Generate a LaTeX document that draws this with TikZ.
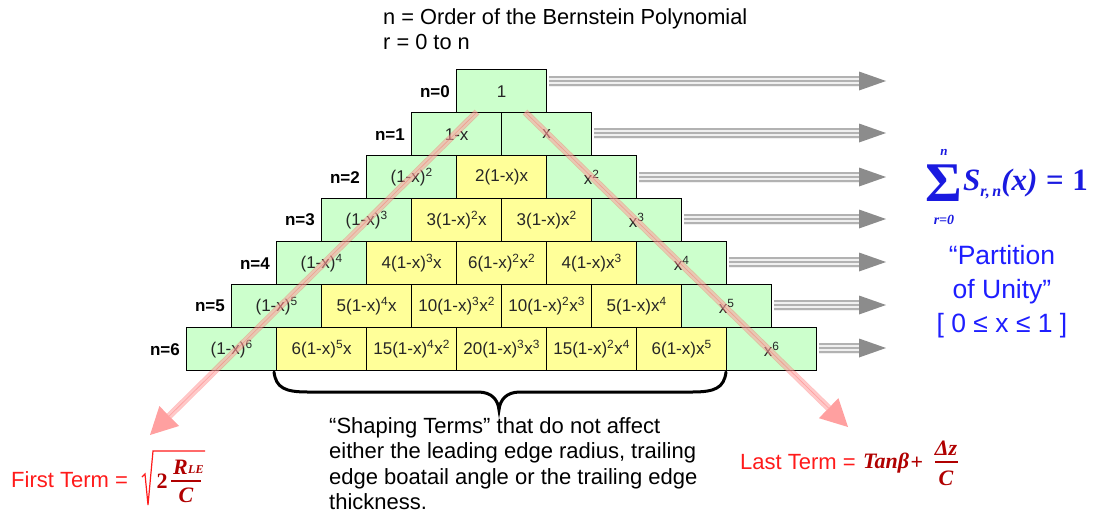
\documentclass[tikz,border=0pt]{standalone}
\usepackage{fontspec}
\setmainfont{Liberation Sans}
\newfontfamily\tmsfont{Liberation Serif}
\usetikzlibrary{calc}
\definecolor{boxgreen}{HTML}{CCFFCC}
\definecolor{boxyellow}{HTML}{FFFF99}
\definecolor{sumblue}{HTML}{1A1AE0}
\definecolor{partblue}{HTML}{1E1EFF}
\definecolor{termred}{HTML}{FF1A1A}
\definecolor{darkred}{HTML}{B00000}
\definecolor{arrgray}{HTML}{8C8C8C}
\definecolor{pinkred}{HTML}{FFA0A0}
\newcommand\SP[1]{\textsuperscript{#1}}
\begin{document}
\begin{tikzpicture}[x=1pt,y=-1pt,
  cell/.style={draw=black, line width=1.3pt, minimum width=90pt, minimum height=43pt,
    inner sep=0pt, anchor=north west, font=\fontsize{17}{17}\selectfont, text=black!85},
  edgecell/.style={cell, fill=boxgreen},
  midcell/.style={cell, fill=boxyellow},
  rowlabel/.style={anchor=east, inner sep=0pt, font=\fontsize{17}{17}\selectfont\bfseries},
  redtext/.style={anchor=west, inner sep=0pt, text=termred, font=\fontsize{22}{22}\selectfont},
  fml/.style={inner sep=0pt, text=darkred, font=\fontsize{22}{22}\tmsfont\bfseries\itshape},
  fmlsub/.style={inner sep=0pt, text=darkred, font=\fontsize{12}{12}\tmsfont\bfseries\itshape},
]
\useasboundingbox (0,0) rectangle (1099,520);

% header
\node[anchor=north west, align=left, inner sep=0pt, font=\fontsize{21.8}{25}\selectfont] (hdr) at (383,9)
  {n = Order of the Bernstein Polynomial\\r = 0 to n};

% row 0
\node[edgecell] (c00) at (456,69) {1};
% row 1
\node[edgecell] (c10) at (411,112) {1-x};
\node[edgecell] (c11) at (501,112) {x};
% row 2
\node[edgecell] (c20) at (366,155) {(1-x)\SP{2}};
\node[midcell]  (c21) at (456,155) {2(1-x)x};
\node[edgecell] (c22) at (546,155) {x\SP{2}};
% row 3
\node[edgecell] (c30) at (321,198) {(1-x)\SP{3}};
\node[midcell]  (c31) at (411,198) {3(1-x)\SP{2}x};
\node[midcell]  (c32) at (501,198) {3(1-x)x\SP{2}};
\node[edgecell] (c33) at (591,198) {x\SP{3}};
% row 4
\node[edgecell] (c40) at (276,241) {(1-x)\SP{4}};
\node[midcell]  (c41) at (366,241) {4(1-x)\SP{3}x};
\node[midcell]  (c42) at (456,241) {6(1-x)\SP{2}x\SP{2}};
\node[midcell]  (c43) at (546,241) {4(1-x)x\SP{3}};
\node[edgecell] (c44) at (636,241) {x\SP{4}};
% row 5
\node[edgecell] (c50) at (231,284) {(1-x)\SP{5}};
\node[midcell]  (c51) at (321,284) {5(1-x)\SP{4}x};
\node[midcell]  (c52) at (411,284) {10(1-x)\SP{3}x\SP{2}};
\node[midcell]  (c53) at (501,284) {10(1-x)\SP{2}x\SP{3}};
\node[midcell]  (c54) at (591,284) {5(1-x)x\SP{4}};
\node[edgecell] (c55) at (681,284) {x\SP{5}};
% row 6
\node[edgecell] (c60) at (186,327) {(1-x)\SP{6}};
\node[midcell]  (c61) at (276,327) {6(1-x)\SP{5}x};
\node[midcell]  (c62) at (366,327) {15(1-x)\SP{4}x\SP{2}};
\node[midcell]  (c63) at (456,327) {20(1-x)\SP{3}x\SP{3}};
\node[midcell]  (c64) at (546,327) {15(1-x)\SP{2}x\SP{4}};
\node[midcell]  (c65) at (636,327) {6(1-x)x\SP{5}};
\node[edgecell] (c66) at (726,327) {x\SP{6}};

% row labels
\foreach \k in {0,...,6} {
  \node[rowlabel] (lab\k) at ($(c\k0.west)+(-6pt,0)$) {n=\k};
}

% grey arrows
\foreach \k/\yy in {0/81,1/133,2/177,3/219,4/262,5/305,6/348} {
  \pgfmathsetmacro\xs{549+45*\k}
  \coordinate (gs\k) at (\xs,\yy);
  \coordinate (gt\k) at (886,\yy);
  \coordinate (gb\k) at (859,\yy);
  \draw[gray!12, line width=11pt] (gs\k) -- (gb\k);
  \foreach \o in {-4,0,4}
    \draw[gray!60, line width=1.1pt] ([yshift=\o pt]gs\k) -- ([yshift=\o pt]gb\k);
  \fill[arrgray] (gt\k) -- ([yshift=9.5pt]gb\k) -- ([yshift=-9.5pt]gb\k) -- cycle;
}

% red diagonal arrows
\coordinate (ls) at (477,112);
\coordinate (lt) at (150,435);
\coordinate (rs) at (525,112);
\coordinate (rt) at (848,427);
\foreach \sa/\ta in {ls/lt, rs/rt} {
  \coordinate (b\ta) at ($(\ta)!27pt!(\sa)$);
  \draw[draw=red!70, double=red!15, double distance=5pt, line width=0.8pt, opacity=.35] (\sa) -- (b\ta);
  \draw[red!70, line width=0.6pt, opacity=.35] (\sa) -- (b\ta);
  \fill[pinkred] (\ta) -- ($(b\ta)!14pt!90:(\ta)$) -- ($(b\ta)!14pt!-90:(\ta)$) -- cycle;
}

% brace
\coordinate (brL) at (274,372);
\coordinate (brT) at (499,410);
\coordinate (brR) at (726,372);
\draw[line width=3pt, line cap=round] (brL) .. controls (276,388) and (285,392) .. (308,392)
  -- (478,392) .. controls (492,392) and (498,400) .. (brT)
  .. controls (500,400) and (506,392) .. (520,392)
  -- (692,392) .. controls (715,392) and (724,388) .. (brR);

% shaping terms text
\node[anchor=north west, align=left, inner sep=0pt, font=\fontsize{22}{25.5}\selectfont] (shp) at (329,417)
  {“Shaping Terms” that do not affect\\either the leading edge radius, trailing\\edge boatail angle or the trailing edge\\thickness.};

% first term
\node[redtext] (ft) at (11,480) {First Term =};
\coordinate (sq0) at (142,477);
\coordinate (sq1) at (205,451);
\draw[termred, line width=1.2pt, line join=miter] (sq0) -- (145,474) -- (148,505) -- (153,451) -- (sq1);
\node[fml, font=\fontsize{22}{22}\tmsfont\bfseries] (f2) at (162,481) {2};
\node[fml, anchor=east] (fR) at (188,467) {R};
\node[fmlsub, anchor=west] (fLE) at (188,470) {LE};
\draw[darkred, line width=1.2pt] (171,481) -- (201,481);
\node[fml] (fC) at (186,495) {C};

% last term
\node[redtext] (lt2) at (740,462) {Last Term =};
\node[fml, anchor=west] (tanb) at (863,463) {Tanβ};
\node[fml, font=\fontsize{22}{22}\tmsfont\bfseries] (plus) at (917,463) {+};
\node[fml] (dz) at (946,448) {Δz};
\draw[darkred, line width=1.2pt] (935,462) -- (958,462);
\node[fml] (lC) at (946,478) {C};

% sum
\node[inner sep=0pt, text=sumblue, font=\fontsize{56}{56}\tmsfont\bfseries] (sig) at (944,183) {Σ};
\node[inner sep=0pt, text=sumblue, font=\fontsize{13}{13}\tmsfont\bfseries\itshape] (sgn) at (944,152) {n};
\node[inner sep=0pt, text=sumblue, font=\fontsize{14}{14}\tmsfont\bfseries\itshape] (sgr) at (944,220) {r=0};
\node[anchor=west, inner sep=0pt, text=sumblue, font=\fontsize{31}{31}\tmsfont\bfseries\itshape] (sx) at (963,184)
  {S\raisebox{-6pt}{\fontsize{16}{16}\selectfont r,\,n}(x)\;{\upshape =\;1}};

% partition of unity
\node[align=center, inner sep=0pt, text=partblue, font=\fontsize{26.5}{34}\selectfont] (pu) at (1002,292)
  {“Partition\\of Unity”\\{[} 0 ≤ x ≤ 1 ]};
\end{tikzpicture}
\end{document}
